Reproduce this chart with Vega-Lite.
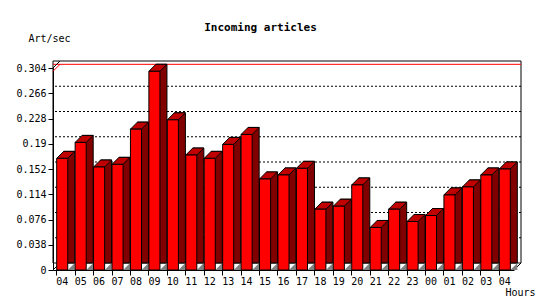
{
  "$schema": "https://vega.github.io/schema/vega-lite/v6.json",
  "width": 461,
  "height": 202,
  "autosize": {"type": "none"},
  "padding": {"left": 53, "top": 68, "right": 36, "bottom": 30},
  "background": "#ffffff",
  "title": {
    "text": "Incoming articles",
    "font": "DejaVu Sans Mono",
    "fontSize": 11,
    "fontWeight": "bold",
    "color": "#000000",
    "anchor": "middle",
    "frame": "group",
    "baseline": "alphabetic",
    "dx": -23,
    "offset": -9
  },
  "datasets": {
    "rates": [
      {"time": "2024-01-01T04:00:00", "value": 0.168},
      {"time": "2024-01-01T05:00:00", "value": 0.192},
      {"time": "2024-01-01T06:00:00", "value": 0.155},
      {"time": "2024-01-01T07:00:00", "value": 0.159},
      {"time": "2024-01-01T08:00:00", "value": 0.212},
      {"time": "2024-01-01T09:00:00", "value": 0.299},
      {"time": "2024-01-01T10:00:00", "value": 0.226},
      {"time": "2024-01-01T11:00:00", "value": 0.173},
      {"time": "2024-01-01T12:00:00", "value": 0.168},
      {"time": "2024-01-01T13:00:00", "value": 0.189},
      {"time": "2024-01-01T14:00:00", "value": 0.204},
      {"time": "2024-01-01T15:00:00", "value": 0.137},
      {"time": "2024-01-01T16:00:00", "value": 0.143},
      {"time": "2024-01-01T17:00:00", "value": 0.153},
      {"time": "2024-01-01T18:00:00", "value": 0.0915},
      {"time": "2024-01-01T19:00:00", "value": 0.096},
      {"time": "2024-01-01T20:00:00", "value": 0.128},
      {"time": "2024-01-01T21:00:00", "value": 0.064},
      {"time": "2024-01-01T22:00:00", "value": 0.0915},
      {"time": "2024-01-01T23:00:00", "value": 0.073},
      {"time": "2024-01-02T00:00:00", "value": 0.082},
      {"time": "2024-01-02T01:00:00", "value": 0.113},
      {"time": "2024-01-02T02:00:00", "value": 0.125},
      {"time": "2024-01-02T03:00:00", "value": 0.143},
      {"time": "2024-01-02T04:00:00", "value": 0.152}
    ],
    "ticks": [
      {"tick": 0.038}, {"tick": 0.076}, {"tick": 0.114}, {"tick": 0.152},
      {"tick": 0.19}, {"tick": 0.228}, {"tick": 0.266}
    ],
    "leftEdges": [
      {"time": "2024-01-01T04:00:00", "edge": 0},
      {"time": "2024-01-01T04:00:00", "edge": 0.304}
    ],
    "rightEdges": [
      {"time": "2024-01-02T04:00:00", "edge": 0}
    ]
  },
  "config": {
    "view": {"stroke": null},
    "axis": {
      "labelFont": "DejaVu Sans Mono",
      "labelFontSize": 10,
      "labelColor": "#000000",
      "titleFont": "DejaVu Sans Mono",
      "titleFontSize": 10,
      "titleFontWeight": "normal",
      "titleColor": "#000000",
      "domainColor": "#000000",
      "tickColor": "#000000",
      "tickSize": 5,
      "grid": false,
      "labelOverlap": false,
      "labelFlush": false
    }
  },
  "layer": [
    {
      "data": {"name": "ticks"},
      "mark": {"type": "rule", "color": "#000000", "strokeWidth": 1, "strokeDash": [2, 2], "xOffset": 7, "x2Offset": 7, "yOffset": -7},
      "encoding": {
        "y": {
          "field": "tick", "type": "quantitative",
          "scale": {"domain": [0, 0.304], "nice": false},
          "axis": {"values": [0, 0.038, 0.076, 0.114, 0.152, 0.19, 0.228, 0.266, 0.304], "tickCount": 20, "format": ".3~f", "labelPadding": 2, "labelOverlap": false, "title": "Art/sec", "titleAngle": 0, "titleX": -25, "titleY": -27, "titleAlign": "left", "titleBaseline": "alphabetic"}
        }
      }
    },
    {
      "data": {"values": [{}]},
      "mark": {"type": "rect", "fill": null, "fillOpacity": 0, "stroke": "#000000", "strokeWidth": 1, "xOffset": 7, "x2Offset": 7, "yOffset": -7, "y2Offset": -7},
      "encoding": {
        "y": {"datum": 0.304, "type": "quantitative"},
        "y2": {"datum": 0}
      }
    },
    {
      "data": {"name": "rates"},
      "mark": {"type": "rule", "color": "#ff0000", "strokeWidth": 1, "xOffset": 7, "x2Offset": 7, "yOffset": -7},
      "encoding": {
        "y": {"aggregate": "max", "field": "value", "type": "quantitative"}
      }
    },
    {
      "data": {"name": "leftEdges"},
      "mark": {"type": "point", "shape": "M -9.22 0 L -2.22 -7", "size": 4, "filled": false, "stroke": "#000000", "strokeWidth": 1, "opacity": 1},
      "encoding": {
        "x": {"field": "time", "type": "ordinal", "timeUnit": "yearmonthdatehours"},
        "y": {"field": "edge", "type": "quantitative"}
      }
    },
    {
      "data": {"name": "rightEdges"},
      "mark": {"type": "point", "shape": "M 9.22 0 L 16.22 -7", "size": 4, "filled": false, "stroke": "#000000", "strokeWidth": 1, "opacity": 1},
      "encoding": {
        "x": {"field": "time", "type": "ordinal", "timeUnit": "yearmonthdatehours"},
        "y": {"field": "edge", "type": "quantitative"}
      }
    },
    {
      "data": {"name": "rates"},
      "transform": [
        {"joinaggregate": [{"op": "max", "field": "value", "as": "peak"}]},
        {"window": [{"op": "row_number", "as": "rn"}]},
        {"filter": "datum.rn == 1"}
      ],
      "mark": {"type": "point", "shape": "M -9.22 0 L -2.22 -7", "size": 4, "filled": false, "stroke": "#ff0000", "strokeWidth": 1, "opacity": 1},
      "encoding": {
        "x": {"field": "time", "type": "ordinal", "timeUnit": "yearmonthdatehours"},
        "y": {"field": "peak", "type": "quantitative"}
      }
    },
    {
      "data": {"name": "rates"},
      "mark": {"type": "bar", "fill": "#800000", "stroke": "#000000", "strokeWidth": 1, "xOffset": 7, "x2Offset": 7, "yOffset": -7, "y2Offset": 0},
      "encoding": {
        "x": {
          "field": "time", "type": "ordinal", "timeUnit": "yearmonthdatehours",
          "scale": {"paddingInner": 0.4, "paddingOuter": 0.2},
          "axis": {"format": "%H", "labelAngle": 0, "bandPosition": 0, "labelPadding": 1, "title": "Hours", "titleX": 452, "titleY": 25, "titleAlign": "left", "titleBaseline": "alphabetic"}
        },
        "y": {"field": "value", "type": "quantitative"}
      }
    },
    {
      "data": {"name": "rates"},
      "mark": {"type": "point", "shape": "M -5.53 0 L 5.53 0 L 12.53 -7 L 1.47 -7 Z", "size": 4, "filled": true, "fill": "#c00000", "stroke": "#000000", "strokeWidth": 1, "opacity": 1},
      "encoding": {
        "x": {"field": "time", "type": "ordinal", "timeUnit": "yearmonthdatehours"},
        "y": {"field": "value", "type": "quantitative"}
      }
    },
    {
      "data": {"name": "rates"},
      "mark": {"type": "point", "shape": "M 5.53 0 L 12.53 -7 L 12.53 0 Z", "size": 4, "filled": true, "fill": "#808080", "strokeWidth": 0, "opacity": 1},
      "encoding": {
        "x": {"field": "time", "type": "ordinal", "timeUnit": "yearmonthdatehours"},
        "y": {"datum": 0, "type": "quantitative"}
      }
    },
    {
      "data": {"name": "rates"},
      "mark": {"type": "bar", "fill": "#ff0000", "stroke": "#000000", "strokeWidth": 1},
      "encoding": {
        "x": {"field": "time", "type": "ordinal", "timeUnit": "yearmonthdatehours"},
        "y": {"field": "value", "type": "quantitative"}
      }
    }
  ]
}
